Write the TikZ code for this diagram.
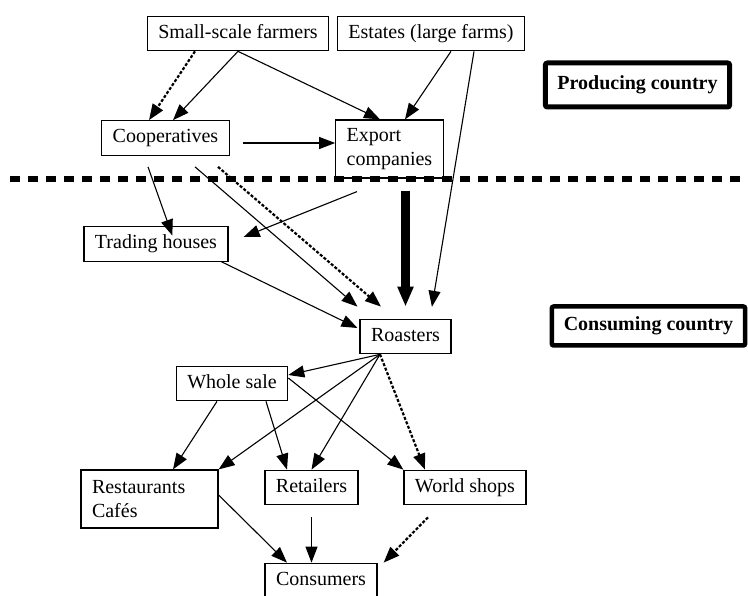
\documentclass[tikz,border=0pt]{standalone}
\usepackage{fontspec}
\setmainfont{Liberation Serif}
\usetikzlibrary{arrows.meta}

\begin{document}
\begin{tikzpicture}
  [x=1pt,y=-1pt,every node/.style={draw,line width=1.2pt,inner xsep=11pt,inner ysep=8pt,text height=14pt,text depth=4.5pt,font=\fontsize{20}{24}\selectfont},
   arr/.style={-{Triangle[length=16pt,width=12pt]},line width=1.1pt},
   weak/.style={arr,line width=2.2pt,dash pattern=on 3pt off 1.8pt},
   region/.style={line width=5pt,inner xsep=12pt,rounded corners=2pt,font=\fontsize{20}{24}\selectfont\bfseries}]
  \useasboundingbox (0,0) rectangle (748,596);

  \node (farmers) at (238,33.5) {Small-scale farmers};
  \node (estates) at (431,33.5) {Estates (large farms)};
  \node (coop) at (165.5,138) {Cooperatives};
  \node (export)[text height=,text depth=,align=left,minimum height=58pt] at (389.5,149) {Export\\companies};
  \node (producing)[region,minimum height=44pt] at (637.5,85) {Producing country};
  \node (trading) at (156,244) {Trading houses};
  \node (roasters) at (405.5,336.5) {Roasters};
  \node (consuming)[region,line width=4.5pt,minimum height=39pt] at (648.5,326) {Consuming country};
  \node (wholesale) at (232,383.5) {Whole sale};
  \node (restaurants)[text height=,text depth=,text width=115pt,align=left,minimum height=58pt] at (149.5,499) {Restaurants\\Caf\'es};
  \node (retailers) at (311.5,487.5) {Retailers};
  \node (worldshops) at (465,487.5) {World shops};
  \node (consumers) at (321,580.5) {Consumers};

  % border between the two countries
  \draw[line width=6pt,dash pattern=on 9.5pt off 8.5pt] (10,179) -- (748,179);

  % producing country
  \draw[weak] ([xshift=-43pt]farmers.south) -- ([xshift=-16.5pt]coop.north);
  \draw[arr] (farmers.south) -- ([xshift=7.5pt]coop.north);
  \draw[arr] (farmers.south) -- ([xshift=-9.5pt]export.north);
  \draw[arr] ([xshift=20pt]estates.south) -- ([xshift=15.5pt]export.north);
  \draw[arr,shorten <=13pt] ([yshift=-5pt]coop.east) -- ([yshift=6pt]export.west);

  % across the border
  \draw[arr,shorten >=12pt] ([xshift=43pt]estates.south) -- ([xshift=24.5pt]roasters.north);
  \draw[arr,shorten >=-10pt] ([xshift=-17.5pt,yshift=-11pt]coop.south) -- ([xshift=13pt]trading.north);
  \draw[arr] ([xshift=29.5pt,yshift=-11pt]coop.south) -- ([xshift=-2pt,yshift=12pt]roasters.north west);
  \draw[weak] ([xshift=52.5pt,yshift=-11pt]coop.south) -- ([xshift=-24.5pt,yshift=12pt]roasters.north);
  \draw[arr] ([xshift=-32.5pt,yshift=-13pt]export.south) -- ([xshift=15pt,yshift=7pt]trading.east);
  \draw[-{Triangle[length=20pt,width=15pt]},line width=8.5pt,shorten <=12pt,shorten >=12pt] (export.south -| roasters.north) -- (roasters.north);
  \draw[arr] ([xshift=-7pt]trading.south east) -- ([xshift=-2pt,yshift=8.5pt]roasters.west);

  % consuming country
  \draw[arr] ([xshift=-25.5pt]roasters.south) -- ([yshift=8.5pt]wholesale.east);
  \foreach \to in {restaurants.north east,retailers.north}
    \draw[arr] ([xshift=-25.5pt]roasters.south) -- (\to);
  \draw[weak] ([xshift=-25.5pt]roasters.south) -- ([xshift=-40pt]worldshops.north);
  \draw[arr] ([xshift=-15pt]wholesale.south) -- ([xshift=23.5pt]restaurants.north);
  \draw[arr] ([xshift=34pt]wholesale.south) -- ([xshift=-24.5pt]retailers.north);
  \draw[arr] ([yshift=5.5pt]wholesale.east) -- (worldshops.north west);
  \draw[arr] ([yshift=4pt]restaurants.east) -- ([xshift=-34pt]consumers.north);
  \draw[arr,shorten <=12pt] (retailers.south) -- (retailers.south |- consumers.north);
  \draw[weak] ([xshift=-37pt,yshift=-12pt]worldshops.south) -- ([xshift=6pt]consumers.north east);

\end{tikzpicture}
\end{document}
